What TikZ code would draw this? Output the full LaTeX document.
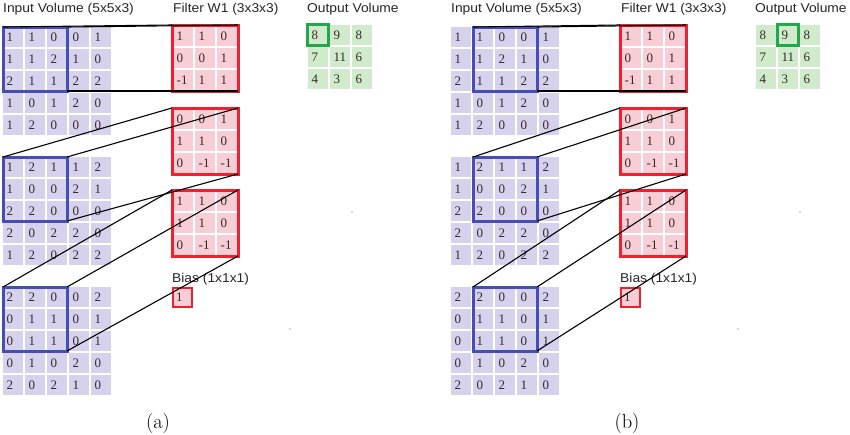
\documentclass[tikz,border=0pt]{standalone}
\usepackage{fontspec}
\newfontfamily\hdfont{Liberation Sans}
\newfontfamily\numfont{Liberation Serif}
\definecolor{inbg}{RGB}{214,209,236}
\definecolor{fbg}{RGB}{248,205,213}
\definecolor{obg}{RGB}{208,235,203}
\definecolor{bluebd}{RGB}{70,78,178}
\definecolor{redbd}{RGB}{236,34,44}
\definecolor{greenbd}{RGB}{34,168,74}
\definecolor{digitc}{RGB}{55,40,40}
\tikzset{
  cellbase/.style={rectangle, minimum size=20pt, inner sep=0pt, outer sep=0pt, anchor=north west},
  incell/.style={cellbase, fill=inbg},
  fcell/.style={cellbase, fill=fbg},
  ocell/.style={cellbase, fill=obg},
  digit/.style={font=\numfont\fontsize{13}{13}\selectfont, text=digitc, anchor=west, inner sep=0pt},
  hd/.style={font=\hdfont\fontsize{12.8}{13}\selectfont, text=black!85, anchor=base west, inner sep=0pt},
  captxt/.style={font=\fontsize{20.5}{22}\selectfont, inner sep=0pt},
  bluebox/.style={rectangle, draw=bluebd, line width=3pt, minimum size=64pt, inner sep=0pt, outer sep=0pt},
  redbox/.style={rectangle, draw=redbd, line width=3pt, minimum size=66pt, inner sep=0pt, outer sep=0pt},
  greenbox/.style={rectangle, draw=greenbd, line width=2.5pt, minimum size=21pt, inner sep=0pt, outer sep=0pt},
  biasbox/.style={rectangle, draw=redbd, fill=fbg, line width=2.5pt, minimum size=19pt, inner sep=0pt, outer sep=0pt},
  conn/.style={draw=black, line width=1.1pt},
  speck/.style={circle, fill=black!60, inner sep=0pt, minimum size=1.3pt}
}
% #1 name, #2 style, #3 x, #4 y, #5 rows
\newcommand\mygrid[5]{%
  \foreach \row [count=\r from 0] in {#5} {%
    \foreach \v [count=\c from 0] in \row {%
      \node[#2] (#1-\r-\c) at ({#3+22*\c},{#4+22*\r}) {};
      \node[digit] at ([xshift=3.5pt]#1-\r-\c.west) {\v};
    }%
  }%
}
\begin{document}
\begin{tikzpicture}[x=1pt,y=-1pt]
\useasboundingbox (0,0) rectangle (850,434);
\fill[white] (0,0) rectangle (850,434);

\foreach \p/\dx/\bc/\oc in {a/0/0/0, b/448/1/1} {
  % headers
  \node[hd] (hin\p) at (3+\dx,12) {\scalebox{1.08}[1]{Input Volume (5x5x3)}};
  \node[hd] (hf\p) at (173+\dx,12) {\scalebox{1.08}[1]{Filter W1 (3x3x3)}};
  \node[hd] (ho\p) at (307+\dx,12) {\scalebox{1.08}[1]{Output Volume}};
  \node[hd] (hb\p) at (172+\dx,282) {\scalebox{1.08}[1]{Bias (1x1x1)}};
  % input slices
  \mygrid{i\p1}{incell}{3+\dx}{27}{{1,1,0,0,1},{1,1,2,1,0},{2,1,1,2,2},{1,0,1,2,0},{1,2,0,0,0}}
  \mygrid{i\p2}{incell}{3+\dx}{157}{{1,2,1,1,2},{1,0,0,2,1},{2,2,0,0,0},{2,0,2,2,0},{1,2,0,2,2}}
  \mygrid{i\p3}{incell}{3+\dx}{287}{{2,2,0,0,2},{0,1,1,0,1},{0,1,1,0,1},{0,1,0,2,0},{2,0,2,1,0}}
  % filters
  \mygrid{f\p1}{fcell}{173+\dx}{26}{{1,1,0},{0,0,1},{-1,1,1}}
  \mygrid{f\p2}{fcell}{173+\dx}{109}{{0,0,1},{1,1,0},{0,-1,-1}}
  \mygrid{f\p3}{fcell}{173+\dx}{191}{{1,1,0},{1,1,0},{0,-1,-1}}
  \node[redbox] (F\p1) at (173+32+\dx,26+32) {};
  \node[redbox] (F\p2) at (173+32+\dx,109+32) {};
  \node[redbox] (F\p3) at (173+32+\dx,191+32) {};
  % bias
  \node[biasbox] (B\p) at (182.5+\dx,297.5) {};
  \node[digit] at ([xshift=3pt]B\p.west) {1};
  % output
  \mygrid{o\p}{ocell}{308+\dx}{25}{{8,9,8},{7,11,6},{4,3,6}}
  \node[greenbox] (G\p) at (308+10+22*\oc+\dx,25+10) {};
  % receptive fields
  \node[bluebox] (R\p1) at (3+32+22*\bc+\dx,27+32) {};
  \node[bluebox] (R\p2) at (3+32+22*\bc+\dx,157+32) {};
  \node[bluebox] (R\p3) at (3+32+22*\bc+\dx,287+32) {};
  % connectors
  \foreach \k in {1,2,3} {
    \draw[conn] (R\p\k.north west) -- (F\p\k.north west);
    \draw[conn] (R\p\k.north east) -- (F\p\k.north east);
    \draw[conn] (R\p\k.south east) -- (F\p\k.south east);
  }
  % specks
  \node[speck] (s1\p) at (352+\dx,212) {};
  \node[speck] (s2\p) at (290+\dx,329) {};
}
\node[captxt] (capa) at (158,423) {(a)};
\node[captxt] (capb) at (627,423) {(b)};
\end{tikzpicture}
\end{document}
